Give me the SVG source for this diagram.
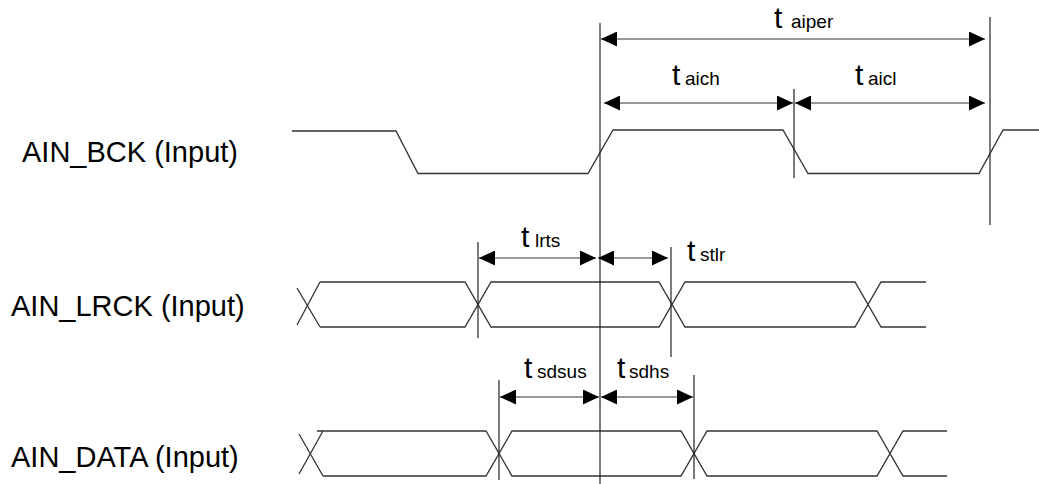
<svg xmlns="http://www.w3.org/2000/svg" width="1039" height="484" viewBox="0 0 1039 484">
<style>
.lbl{font-family:"Liberation Sans",Arial,sans-serif;font-size:29px;fill:#000}
.tt{font-family:"Liberation Sans",Arial,sans-serif;font-size:30px;fill:#000}
.sub{font-size:19px}
.wave{fill:none;stroke:#333;stroke-width:1.3}
.ref{stroke:#222;stroke-width:1.2}
.dim{stroke:#333;stroke-width:1.2;marker-start:url(#ah);marker-end:url(#ah)}
</style>
<defs>
<marker id="ah" markerUnits="userSpaceOnUse" markerWidth="17" markerHeight="15" refX="16" refY="7.5" orient="auto-start-reverse">
<path d="M0,0 L16,7.5 L0,15 Z" fill="#000"/>
</marker>
</defs>
<rect width="1039" height="484" fill="#fff"/>

<g id="bck">
<text class="lbl" x="22" y="162">AIN_BCK (Input)</text>
<polyline class="wave" points="292,131 396,131 418,173.5 588,173.5 613,130 783,130 808,173.5 979,173.5 1003,130 1039,130"/>
</g>

<g id="lrck">
<text class="lbl" x="11" y="316">AIN_LRCK (Input)</text>
<path class="wave" d="M297,288 L320,327 M297,325 L320,282 M320,282 H465 L491,327 H659 L685,282 H855 L881,327 H926 M320,327 H465 L491,282 H659 L685,327 H855 L881,282 H926"/>
</g>

<g id="data">
<text class="lbl" x="11" y="467">AIN_DATA (Input)</text>
<path class="wave" d="M299,434 L323,476 M299,474 L323,431 M317,431 H486 L512,476 H681 L707,431 H877 L903,476 H947 M323,476 H486 L512,431 H681 L707,476 H877 L903,431 H947"/>
</g>

<g id="labels">
<text class="tt" x="774" y="28">t<tspan class="sub" x="791">aiper</tspan></text>
<text class="tt" x="672" y="85">t<tspan class="sub" x="685">aich</tspan></text>
<text class="tt" x="855" y="85">t<tspan class="sub" x="868">aicl</tspan></text>
<text class="tt" x="521" y="247">t<tspan class="sub" x="535">lrts</tspan></text>
<text class="tt" x="687" y="261">t<tspan class="sub" x="700">stlr</tspan></text>
<text class="tt" x="524" y="378">t<tspan class="sub" x="537">sdsus</tspan></text>
<text class="tt" x="617" y="378">t<tspan class="sub" x="629">sdhs</tspan></text>
</g>

<g id="connectors">
<line class="ref" x1="600" y1="23" x2="600" y2="484"/>
<line class="ref" x1="990" y1="17" x2="990" y2="225"/>
<line class="ref" x1="794" y1="89" x2="794" y2="178"/>
<line class="ref" x1="478" y1="242" x2="478" y2="338"/>
<line class="ref" x1="671" y1="247" x2="671" y2="357"/>
<line class="ref" x1="499" y1="380" x2="499" y2="480"/>
<line class="ref" x1="694" y1="375" x2="694" y2="479"/>
<line class="dim" x1="601" y1="39" x2="985" y2="39"/>
<line class="dim" x1="604" y1="103" x2="793" y2="103"/>
<line class="dim" x1="795" y1="103" x2="985" y2="103"/>
<line class="dim" x1="479" y1="258" x2="596" y2="258"/>
<line class="dim" x1="598" y1="258" x2="668" y2="258"/>
<line class="dim" x1="500" y1="397" x2="599" y2="397"/>
<line class="dim" x1="601" y1="397" x2="693" y2="397"/>
</g>
</svg>
